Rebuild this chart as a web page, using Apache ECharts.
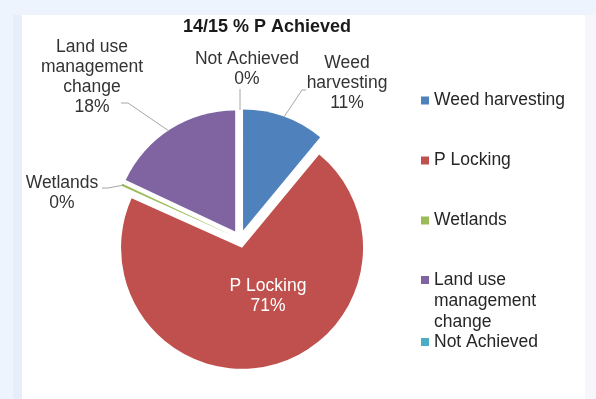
<!DOCTYPE html>
<html>
<head>
<meta charset="utf-8">
<script src="https://cdn.jsdelivr.net/npm/echarts@6/dist/echarts.min.js"></script>
<style>
  html, body { margin: 0; padding: 0; background: #eef4fd; }
  #chart { width: 596px; height: 399px; }
</style>
</head>
<body>
<div id="chart"></div>
<script>
// Share of phosphorus reduction achieved, 2014/15, by measure
const categories = ['Weed harvesting', 'P Locking', 'Wetlands', 'Land use management change', 'Not Achieved'];
const shares = [11, 70.7, 0.3, 18, 0];
const sliceLabels = ['Weed\nharvesting', 'P Locking', 'Wetlands', 'Land use\nmanagement\nchange', 'Not Achieved'];
const legendLabels = ['Weed harvesting', 'P Locking', 'Wetlands', '\n\nLand use\nmanagement\nchange', 'Not Achieved'];
const colors = ['#4f81bd', '#c0504d', '#9bbb59', '#8064a2', '#4bacc6'];
const chartTitle = '14/15 % P Achieved';

const FONT = "'Liberation Sans', Arial, sans-serif";
const PIE_CENTER = [240, 239];
const PIE_RADIUS = 121;

// Where each slice label sits (centre of its text block) and its leader line
const labelPlacement = [
  { x: 347, y: 83, line: [[284, 117], [302, 90], [306, 90]] },
  { x: 268, y: 296, line: null },
  { x: 62, y: 193, line: [[124, 185], [108, 188], [102, 188]] },
  { x: 92, y: 77, line: [[169, 131], [128, 103], [121, 103]] },
  { x: 247, y: 69, line: [[240, 110], [240, 99], [240, 89]] }
];

// Top edge of each legend row block
const legendTops = [90, 150, 210, 227.5, 331.5];

// Exploded, coloured slices
const sliceData = categories.map((name, i) => ({
  name: name,
  value: shares[i],
  selected: true,
  itemStyle: { color: colors[i] }
}));

// Invisible twin pie that carries the labels and leader lines
const labelData = categories.map((name, i) => {
  const item = { name: name, value: shares[i] };
  if (i === 1) {
    item.label = { position: 'inside', color: '#ffffff' };
    item.labelLine = { show: false };
  }
  return item;
});

const legends = categories.map((name, i) => ({
  data: [{ name: name, itemStyle: { color: colors[i] } }],
  orient: 'vertical',
  left: 421,
  top: legendTops[i],
  padding: 0,
  icon: 'rect',
  itemWidth: 8,
  itemHeight: 8,
  itemGap: 0,
  selectedMode: false,
  formatter: () => legendLabels[i],
  textStyle: {
    fontFamily: FONT,
    fontSize: 17.5,
    color: '#262626',
    lineHeight: 21
  }
}));

const chart = echarts.init(document.getElementById('chart'), null, { renderer: 'canvas' });
chart.setOption({
  backgroundColor: '#eef4fd',
  animation: false,
  tooltip: { show: false },
  graphic: [
    { type: 'rect', z: -10, shape: { x: 13, y: 15, width: 9, height: 384 }, style: { fill: '#e7eefb' } },
    { type: 'rect', z: -10, shape: { x: 22, y: 15, width: 563, height: 384 }, style: { fill: '#ffffff' } },
    { type: 'rect', z: -10, shape: { x: 585, y: 15, width: 11, height: 384 }, style: { fill: '#f7f6fc' } }
  ],
  title: {
    text: chartTitle,
    left: 183,
    top: 18,
    padding: 0,
    textStyle: { fontFamily: FONT, fontSize: 18, fontWeight: 'bold', color: '#1a1a1a' }
  },
  legend: legends,
  series: [
    {
      type: 'pie',
      name: 'slices',
      center: PIE_CENTER,
      radius: PIE_RADIUS,
      startAngle: 90,
      clockwise: true,
      selectedMode: 'multiple',
      selectedOffset: 9,
      emphasis: { disabled: true },
      itemStyle: { borderWidth: 0 },
      label: { show: false },
      labelLine: { show: false },
      data: sliceData
    },
    {
      type: 'pie',
      name: 'labels',
      center: PIE_CENTER,
      radius: PIE_RADIUS,
      startAngle: 90,
      clockwise: true,
      silent: true,
      z: 3,
      selectedMode: false,
      avoidLabelOverlap: false,
      emphasis: { disabled: true },
      itemStyle: { color: 'rgba(0,0,0,0)', borderWidth: 0 },
      label: {
        show: true,
        position: 'outside',
        fontFamily: FONT,
        fontSize: 17.5,
        lineHeight: 20,
        color: '#333333',
        align: 'center',
        formatter: p => sliceLabels[p.dataIndex] + '\n' + Math.round(p.percent) + '%'
      },
      labelLine: { show: true, lineStyle: { color: '#a6a6a6', width: 1 } },
      labelLayout: params => {
        const pl = labelPlacement[params.dataIndex];
        const out = { x: pl.x, y: pl.y, align: 'center', verticalAlign: 'middle' };
        if (pl.line) out.labelLinePoints = pl.line;
        return out;
      },
      data: labelData
    }
  ]
});
</script>
</body>
</html>
